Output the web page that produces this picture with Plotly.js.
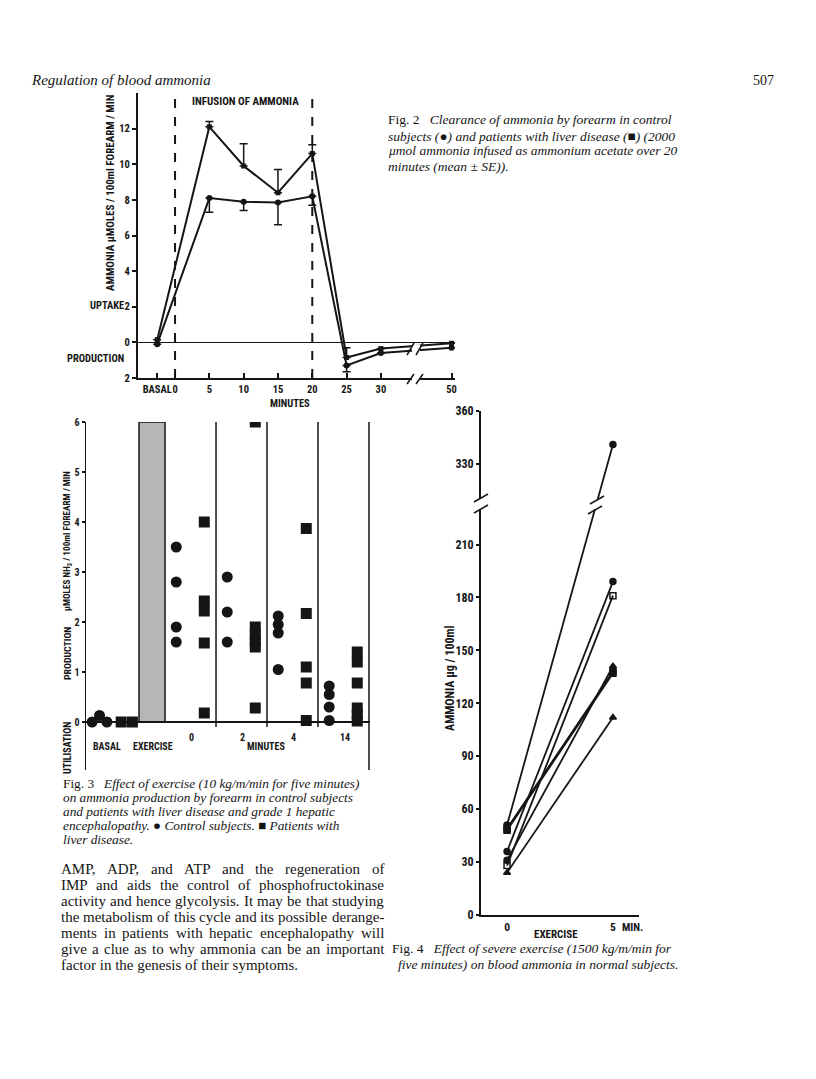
<!DOCTYPE html>
<html>
<head>
<meta charset="utf-8">
<script src="https://cdn.plot.ly/plotly-3.0.1.min.js"></script>
<style>
  html, body { margin: 0; padding: 0; background: #fff; }
  #page { width: 816px; height: 1079px; }
</style>
</head>
<body>
<div id="page"></div>
<script>
// Fig 2 - forearm clearance of infused ammonia (mean, SE)
var fig2Times = ['BASAL', 5, 10, 15, 20, 25, 30, 50];
var fig2Liver = [0.15, 12.1, 9.9, 8.4, 10.6, -0.85, -0.35, -0.05];
var fig2LiverSE = [0, 0.3, 1.25, 1.3, 0.5, 0.55, 0, 0];
var fig2Control = [-0.1, 8.1, 7.9, 7.85, 8.2, -1.3, -0.6, -0.3];
var fig2ControlSE = [0, 0.8, 0.5, 1.25, 0.5, 0.35, 0, 0];
var fig2XTicks = ['BASAL', 0, 5, 10, 15, 20, 25, 30, 50];
var fig2YTicks = [-2, 0, 2, 4, 6, 8, 10, 12];
var fig2YLabels = ['2', '0', '2', '4', '6', '8', '10', '12'];

// Fig 3 - ammonia production after exercise (columns = minutes after)
var fig3Columns = ['0', '2', '4', '14'];
var fig3BasalControl = [0, 0.13, 0];
var fig3BasalLiver = [0, 0];
var fig3Control = [[3.5, 2.8, 1.9, 1.6], [2.9, 2.2, 1.6], [2.12, 1.95, 1.78, 1.05], [0.72, 0.55, 0.3, 0.03]];
var fig3Liver = [[4.0, 2.42, 2.22, 1.58, 0.18], [6.0, 1.9, 1.75, 1.62, 1.5, 0.28], [3.87, 2.17, 1.1, 0.78, 0.03], [1.4, 1.2, 0.78, 0.28, 0.14, 0.02]];
var fig3YTicks = [0, 1, 2, 3, 4, 5, 6];

// Fig 4 - blood ammonia before / after severe exercise
var fig4Times = [0, 5];
var fig4Before = [51, 49, 48, 36, 31, 28, 24];
var fig4After = [341, 138, 137, 189, 141, 181, 112];
var fig4SymBefore = ['circle', 'square', 'square', 'circle', 'circle', 'square-open', 'triangle-up'];
var fig4SymAfter = ['circle', 'square', 'square', 'circle', 'triangle-up', 'square-open', 'triangle-up'];
var fig4YTicks = [0, 30, 60, 90, 120, 150, 180, 210, 330, 360];

var W = 816, H = 1079;
var ink = '#151515';
var narrow = "'Liberation Sans Narrow', 'Roboto Condensed', Roboto, sans-serif";
var serif = "'Liberation Serif', 'DejaVu Serif', serif";
function px(x) { return x / W; }
function py(y) { return 1 - y / H; }

// broken axes
function fig2X(t) {
  if (t === 'BASAL') return -2.6;
  return t <= 30 ? t : 30 + (t - 30) * 0.515;
}
function fig4Y(v) { return v > 260 ? v - 74.3 : v; }

var data = [];

// --- Fig 2 ---
data.push({
  x: fig2Times.map(fig2X), y: fig2Liver, xaxis: 'x', yaxis: 'y',
  mode: 'lines+markers', line: {color: ink, width: 2},
  marker: {symbol: 'square', size: 5, color: ink},
  error_y: {type: 'data', symmetric: false, array: fig2LiverSE,
    arrayminus: fig2LiverSE.map(function () { return 0; }),
    color: ink, thickness: 1.5, width: 4}
});
data.push({
  x: fig2Times.map(fig2X), y: fig2Control, xaxis: 'x', yaxis: 'y',
  mode: 'lines+markers', line: {color: ink, width: 2},
  marker: {symbol: 'circle', size: 6, color: ink},
  error_y: {type: 'data', symmetric: false, arrayminus: fig2ControlSE,
    array: fig2ControlSE.map(function () { return 0; }),
    color: ink, thickness: 1.5, width: 4}
});

// --- Fig 3 ---
var cX = [], cY = [], lX = [], lY = [];
fig3BasalControl.forEach(function (v, i) { cX.push(-1.43 + i * 0.145); cY.push(v); });
fig3BasalLiver.forEach(function (v, i) { lX.push(-0.86 + i * 0.22); lY.push(v); });
fig3Columns.forEach(function (c, ci) {
  fig3Control[ci].forEach(function (v) { cX.push(ci + 0.22); cY.push(v); });
  fig3Liver[ci].forEach(function (v) { lX.push(ci + 0.77); lY.push(v); });
});
data.push({x: cX, y: cY, xaxis: 'x2', yaxis: 'y2', mode: 'markers',
  marker: {symbol: 'circle', size: 11, color: ink}});
data.push({x: lX, y: lY, xaxis: 'x2', yaxis: 'y2', mode: 'markers',
  marker: {symbol: 'square', size: 11, color: ink}});

// --- Fig 4 ---
fig4Before.forEach(function (b, i) {
  data.push({
    x: fig4Times, y: [fig4Y(b), fig4Y(fig4After[i])], xaxis: 'x3', yaxis: 'y3',
    mode: 'lines+markers', line: {color: ink, width: 1.8},
    marker: {symbol: [fig4SymBefore[i], fig4SymAfter[i]], size: 6, color: ink,
      line: {color: ink, width: 1.5}}
  });
});

var tickFont = {family: narrow, size: 10.5, color: ink, weight: 'bold'};

var shapes = [
  // Fig 2 infusion start/end
  {type: 'line', xref: 'x', yref: 'paper', x0: 0, x1: 0, y0: py(378), y1: py(93),
    line: {color: ink, width: 2, dash: 'dash'}},
  {type: 'line', xref: 'x', yref: 'paper', x0: 20, x1: 20, y0: py(378), y1: py(93),
    line: {color: ink, width: 2, dash: 'dash'}},
  // Fig 2 x break
  {type: 'rect', xref: 'paper', yref: 'paper', x0: px(412), x1: px(420), y0: py(382), y1: py(344.5),
    fillcolor: '#fff', line: {width: 0}},
  {type: 'line', xref: 'paper', yref: 'paper', x0: px(407), y0: py(384), x1: px(414), y1: py(374), line: {color: ink, width: 1.5}},
  {type: 'line', xref: 'paper', yref: 'paper', x0: px(416), y0: py(384), x1: px(423), y1: py(374), line: {color: ink, width: 1.5}},
  {type: 'line', xref: 'paper', yref: 'paper', x0: px(407), y0: py(355), x1: px(414), y1: py(343), line: {color: ink, width: 1.5}},
  {type: 'line', xref: 'paper', yref: 'paper', x0: px(416), y0: py(355), x1: px(423), y1: py(343), line: {color: ink, width: 1.5}},
  // Fig 3 exercise band and column rules
  {type: 'rect', xref: 'x2', yref: 'y2', x0: -0.51, x1: 0, y0: 0, y1: 6,
    fillcolor: '#b6b6b6', line: {color: ink, width: 1.5}, layer: 'below'},
  {type: 'line', xref: 'x2', yref: 'y2', x0: 1, x1: 1, y0: -0.1, y1: 6, line: {color: ink, width: 1.5}},
  {type: 'line', xref: 'x2', yref: 'y2', x0: 2, x1: 2, y0: -0.1, y1: 6, line: {color: ink, width: 1.5}},
  {type: 'line', xref: 'x2', yref: 'y2', x0: 3, x1: 3, y0: -0.1, y1: 6, line: {color: ink, width: 1.5}},
  {type: 'line', xref: 'x2', yref: 'y2', x0: 4, x1: 4, y0: -0.96, y1: 6, line: {color: ink, width: 1.5}},
  // Fig 4 y break
  {type: 'rect', xref: 'paper', yref: 'paper', x0: px(476), x1: px(486), y0: py(509), y1: py(498),
    fillcolor: '#fff', line: {width: 0}},
  {type: 'line', xref: 'paper', yref: 'paper', x0: px(474), y0: py(502), x1: px(488), y1: py(494), line: {color: ink, width: 1.5}},
  {type: 'line', xref: 'paper', yref: 'paper', x0: px(474), y0: py(513), x1: px(488), y1: py(505), line: {color: ink, width: 1.5}},
  {type: 'rect', xref: 'paper', yref: 'paper', x0: px(593), x1: px(602), y0: py(509), y1: py(499),
    fillcolor: '#fff', line: {width: 0}},
  {type: 'line', xref: 'paper', yref: 'paper', x0: px(590), y0: py(504), x1: px(604), y1: py(496), line: {color: ink, width: 1.5}},
  {type: 'line', xref: 'paper', yref: 'paper', x0: px(588), y0: py(514), x1: px(602), y1: py(506), line: {color: ink, width: 1.5}}
];

var annotations = [];
function note(text, x, y, opts) {
  opts = opts || {};
  annotations.push({
    text: text, xref: 'paper', yref: 'paper', x: px(x), y: py(y),
    xanchor: opts.xanchor || 'left', yanchor: 'middle', showarrow: false,
    textangle: opts.angle || 0, borderpad: 0,
    font: {family: opts.family || serif, size: opts.size || 13.5, color: ink,
      weight: opts.weight || 'normal'}
  });
}
function labOpts(anchor, size, angle) {
  return {family: narrow, size: size || 10.5, weight: 'bold', xanchor: anchor || 'center', angle: angle};
}

// justified body text: words spread between left and right margins
var measure = document.createElement('canvas').getContext('2d');
function justify(lines, left, right, top, step, size) {
  measure.font = size + "px 'Liberation Serif'";
  lines.forEach(function (line, i) {
    var y = top + i * step;
    if (i === lines.length - 1) { note(line, left, y, {size: size}); return; }
    var words = line.split(' ');
    var total = 0;
    words.forEach(function (w) { total += measure.measureText(w).width; });
    var gap = (right - left - total) / (words.length - 1);
    var x = left;
    words.forEach(function (w) {
      note(w, x, y, {size: size});
      x += measure.measureText(w).width + gap;
    });
  });
}

// page header
note('<i>Regulation of blood ammonia</i>', 30, 80, {size: 15});
note('507', 775, 80, {xanchor: 'right', size: 14});

// Fig 2 labels
note('INFUSION OF AMMONIA', 245, 101, labOpts('center', 11));
note('UPTAKE', 125, 306, labOpts('right'));
note('PRODUCTION', 125, 358, labOpts('right'));
note('MINUTES', 290, 404, labOpts('center'));
note('AMMONIA \u03bcMOLES / 100ml FOREARM / MIN', 111, 192, labOpts('center', 11, -90));
// Fig 2 caption
note('Fig. 2\u00a0\u00a0\u00a0<i>Clearance of ammonia by forearm in control</i>', 387, 120);
note('<i>subjects (</i>\u25cf<i>) and patients with liver disease (</i>\u25a0<i>) (2000</i>', 387, 136);
note('<i>\u03bcmol ammonia infused as ammonium acetate over 20</i>', 387, 151);
note('<i>minutes (mean \u00b1 SE)).</i>', 387, 166);

// Fig 3 labels
var fig3LabelX = [0.51, 1.51, 2.51, 3.53];
fig3Columns.forEach(function (c, i) {
  annotations.push({text: c, xref: 'x2', yref: 'y2', x: fig3LabelX[i], y: -0.3,
    showarrow: false, font: {family: narrow, size: 10, color: ink, weight: 'bold'}});
});
note('BASAL', 107, 746, labOpts('center', 10));
note('EXERCISE', 153, 746, labOpts('center', 10));
note('MINUTES', 266, 746, labOpts('center', 10));
note('\u03bcMOLES NH<sub>3</sub> / 100ml FOREARM / MIN', 67, 541, labOpts('center', 9.2, -90));
note('PRODUCTION', 67, 654, labOpts('center', 9.8, -90));
note('UTILISATION', 67, 748, labOpts('center', 10, -90));
// Fig 3 caption
var cap3 = 13.3;
note('Fig. 3\u00a0\u00a0\u00a0<i>Effect of exercise (10 kg/m/min for five minutes)</i>', 62, 783, {size: cap3});
note('<i>on ammonia production by forearm in control subjects</i>', 62, 797, {size: cap3});
note('<i>and patients with liver disease and grade 1 hepatic</i>', 62, 811, {size: cap3});
note('<i>encephalopathy.</i> \u25cf <i>Control subjects.</i> \u25a0 <i>Patients with</i>', 62, 825, {size: cap3});
note('<i>liver disease.</i>', 62, 839, {size: cap3});

// body text
var bodyLines = [
  'AMP, ADP, and ATP and the regeneration of',
  'IMP and aids the control of phosphofructokinase',
  'activity and hence glycolysis. It may be that studying',
  'the metabolism of this cycle and its possible derange-',
  'ments in patients with hepatic encephalopathy will',
  'give a clue as to why ammonia can be an important',
  'factor in the genesis of their symptoms.'
];
justify(bodyLines, 60, 383, 869, 16, 15);

// Fig 4 labels
note('AMMONIA \u03bcg / 100ml', 450, 678, labOpts('center', 12, -90));
note('EXERCISE', 556, 934, labOpts('center', 11));
note('MIN.', 621, 927, labOpts('left', 11));
// Fig 4 caption
note('Fig. 4\u00a0\u00a0\u00a0<i>Effect of severe exercise (1500 kg/m/min for</i>', 391, 948);
note('<i>five minutes) on blood ammonia in normal subjects.</i>', 397, 964);

var layout = {
  width: W, height: H,
  margin: {l: 0, r: 0, t: 0, b: 0},
  paper_bgcolor: '#fff', plot_bgcolor: 'rgba(0,0,0,0)',
  showlegend: false,
  xaxis: {
    domain: [px(138), px(455)], range: [-5.4, 40.8], anchor: 'y',
    showline: true, linewidth: 2, linecolor: ink,
    ticks: 'inside', ticklen: 5, tickwidth: 2, tickcolor: ink,
    tickvals: fig2XTicks.map(fig2X), ticktext: fig2XTicks.map(String), tickangle: 0,
    tickfont: tickFont, showgrid: false, zeroline: false
  },
  yaxis: {
    domain: [py(378), py(93)], range: [-2, 14], anchor: 'x',
    showline: true, linewidth: 2, linecolor: ink,
    ticks: 'outside', ticklen: 4, tickwidth: 2, tickcolor: ink,
    tickvals: fig2YTicks, ticktext: fig2YLabels, tickfont: tickFont,
    showgrid: false, zeroline: true, zerolinecolor: ink, zerolinewidth: 1.5
  },
  xaxis2: {
    domain: [px(86), px(370)], range: [-1.55, 4.02], anchor: 'y2',
    visible: false
  },
  yaxis2: {
    domain: [py(770), py(422)], range: [-0.96, 6.0], anchor: 'x2',
    showline: true, linewidth: 1.5, linecolor: ink,
    ticks: 'outside', ticklen: 3, tickwidth: 1.5, tickcolor: ink,
    tickvals: fig3YTicks, tickfont: {family: narrow, size: 10, color: ink, weight: 'bold'},
    showgrid: false, zeroline: true, zerolinecolor: ink, zerolinewidth: 1.5
  },
  xaxis3: {
    domain: [px(481), px(639)], range: [-1.23, 6.23], anchor: 'y3',
    showline: true, linewidth: 2, linecolor: ink, ticks: '',
    tickvals: fig4Times, ticktext: fig4Times.map(String), tickangle: 0,
    tickfont: {family: narrow, size: 11.5, color: ink, weight: 'bold'},
    showgrid: false, zeroline: false
  },
  yaxis3: {
    domain: [py(915), py(411)], range: [0, 285.7], anchor: 'x3',
    showline: true, linewidth: 2, linecolor: ink,
    ticks: 'outside', ticklen: 3, tickwidth: 2, tickcolor: ink,
    tickvals: fig4YTicks.map(fig4Y), ticktext: fig4YTicks.map(String),
    tickfont: {family: narrow, size: 12, color: ink, weight: 'bold'},
    showgrid: false, zeroline: false
  },
  shapes: shapes,
  annotations: annotations
};

Plotly.newPlot('page', data, layout, {staticPlot: true});
</script>
</body>
</html>
